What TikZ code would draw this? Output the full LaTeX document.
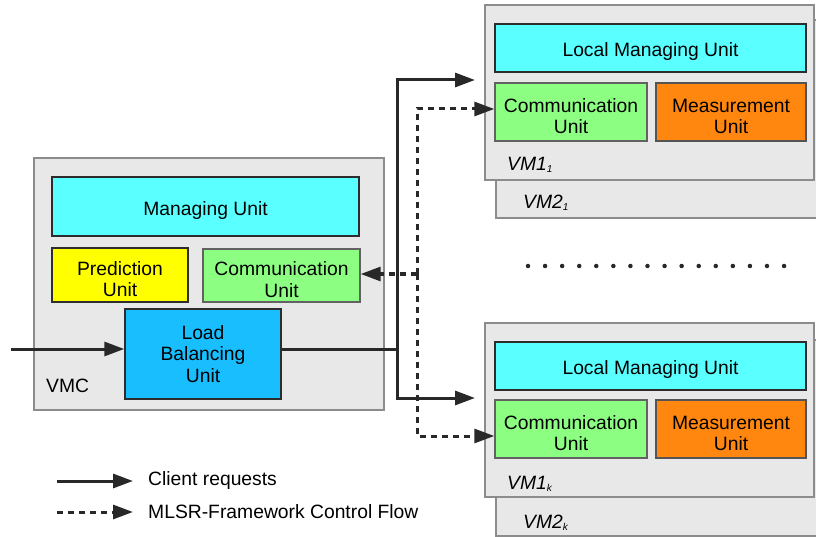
\documentclass[tikz,border=0pt]{standalone}
\usepackage{fontspec}
\setmainfont{Liberation Sans}
\usetikzlibrary{arrows.meta}

\definecolor{boxgray}{RGB}{232,232,232}
\definecolor{boxedge}{RGB}{140,140,140}
\definecolor{unitedge}{RGB}{45,45,45}
\definecolor{mgcyan}{RGB}{90,255,255}
\definecolor{comgreen}{RGB}{140,255,130}
\definecolor{measorange}{RGB}{255,135,15}
\definecolor{predyellow}{RGB}{255,255,0}
\definecolor{lbblue}{RGB}{25,190,255}
\definecolor{flowline}{RGB}{40,40,40}

\newcommand{\vmlabel}[2]{\itshape VM#1\raisebox{-2pt}{\fontsize{10}{10}\selectfont #2}}
% taller first line, so that the text sits a little lower in its box
\newcommand{\uplift}{\rule{0pt}{22pt}}

\tikzset{
  container/.style={draw=boxedge, fill=boxgray, line width=1.4pt, inner sep=0pt},
  unit/.style={draw=unitedge, line width=1.4pt, align=center, inner sep=0pt},
  req/.style={draw=flowline, line width=3pt, -{Triangle[length=20pt,width=14pt]}},
  reqline/.style={draw=flowline, line width=3pt},
  ctl/.style={draw=flowline, line width=3pt, dash pattern=on 6pt off 5pt,
              -{Triangle[length=20pt,width=14pt]}},
  dotmark/.style={fill=flowline, circle, inner sep=0pt, minimum size=4.5pt},
}

\begin{document}
\begin{tikzpicture}[x=1pt, y=-1pt, font=\fontsize{19.3}{21.5}\selectfont]
\useasboundingbox (0,0) rectangle (816,537);

% ---- VMC ----
\node[container, minimum width=350pt, minimum height=252pt] (vmc) at (209,284) {};
\node[unit, fill=mgcyan, minimum width=307pt, minimum height=59pt] (mu) at (205.5,206.5) {\uplift Managing Unit};
\node[unit, fill=predyellow, minimum width=136pt, minimum height=54pt] (pu) at (120,275) {\uplift Prediction\\Unit};
\node[unit, fill=comgreen, draw=boxedge!70!black, minimum width=157pt, minimum height=53pt] (cmc) at (281.5,275.5) {\uplift Communication\\Unit};
\node[unit, fill=lbblue, minimum width=156pt, minimum height=90pt] (lb) at (203,354) {Load\\Balancing\\Unit};
\node[anchor=base west, inner sep=0pt] (vmclbl) at (46,392) {VMC};

% ---- VM pair 1 ----
\node[container, minimum width=325pt, minimum height=198pt] (vmb1) at (658.5,119) {};
\node[container, minimum width=329pt, minimum height=175pt] (vma1) at (649.5,92.5) {};
\node[unit, fill=mgcyan, minimum width=311pt, minimum height=48pt] (lm1) at (650.5,48) {\uplift Local Managing Unit};
\node[unit, fill=comgreen, draw=boxedge!70!black, minimum width=152pt, minimum height=58pt] (cm1) at (571,112) {\uplift Communication\\Unit};
\node[unit, fill=measorange, draw=boxedge!60!black, minimum width=150pt, minimum height=58pt] (ms1) at (731,112) {\uplift Measurement\\Unit};
\node[anchor=base west, inner sep=0pt] (a1lbl) at (507,171) {\vmlabel{1}{1}};
\node[anchor=base west, inner sep=0pt] (b1lbl) at (523,209) {\vmlabel{2}{1}};

% ---- VM pair k ----
\node[container, minimum width=325pt, minimum height=196pt] (vmbk) at (658.5,438) {};
\node[container, minimum width=329pt, minimum height=174pt] (vmak) at (649.5,410) {};
\node[unit, fill=mgcyan, minimum width=311pt, minimum height=48pt] (lmk) at (650.5,366) {\uplift Local Managing Unit};
\node[unit, fill=comgreen, draw=boxedge!70!black, minimum width=152pt, minimum height=58pt] (cmk) at (571,429) {\uplift Communication\\Unit};
\node[unit, fill=measorange, draw=boxedge!60!black, minimum width=150pt, minimum height=58pt] (msk) at (731,429) {\uplift Measurement\\Unit};
\node[anchor=base west, inner sep=0pt] (aklbl) at (507,489) {\vmlabel{1}{k}};
\node[anchor=base west, inner sep=0pt] (bklbl) at (523,528) {\vmlabel{2}{k}};

% ---- ellipsis between the VM pairs ----
\foreach \i in {0,...,15} {
  \node[dotmark] (dot\i) at (528+17.07*\i,266) {};
}

% ---- client requests ----
\coordinate (src) at (11,349);
\coordinate (split) at (397,349);
\coordinate (tip1) at (475,80);
\coordinate (tipk) at (475,398);
\draw[req] (src) -- (lb.west |- src);
\draw[reqline] (lb.east |- split) -- (split);
\draw[req] (split) |- (tip1);
\draw[req] (split) |- (tipk);

% ---- control flow ----
\coordinate (cj) at (417,274);
\coordinate (c1) at (417,109);
\coordinate (ck) at (417,436);
\draw[ctl] (cj) -- (cmc.east |- cj);
\draw[ctl] (cj) -- (c1) -- (cm1.west |- c1);
\draw[ctl] (cj) -- (ck) -- (cmk.west |- ck);

% ---- legend ----
\coordinate (l1a) at (57,481);
\coordinate (l1b) at (133,481);
\coordinate (l2a) at (57,512);
\coordinate (l2b) at (133,512);
\draw[req] (l1a) -- (l1b);
\draw[ctl] (l2a) -- (l2b);
\node[anchor=west, inner sep=0pt] (leg1) at (148,481) {Client requests};
\node[anchor=west, inner sep=0pt] (leg2) at (148,512) {MLSR-Framework Control Flow};
\end{tikzpicture}
\end{document}
